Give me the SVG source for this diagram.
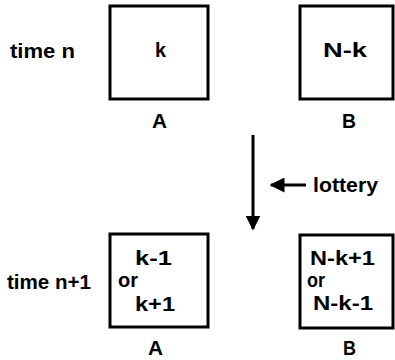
<svg xmlns="http://www.w3.org/2000/svg" width="395" height="360" viewBox="0 0 395 360">
<defs>
<style>
.box{fill:none;stroke:#000;stroke-width:3}
text{font-family:"Liberation Sans",Arial,sans-serif;font-weight:bold;font-size:20px;fill:#000}
.ln{stroke:#000;stroke-width:3;fill:none}
</style>
<marker id="ah" markerWidth="5" markerHeight="5" refX="4.5" refY="2.5" orient="auto" markerUnits="strokeWidth"><path d="M0,0 L5,2.5 L0,5 Z" fill="#000"/></marker>
</defs>
<rect width="395" height="360" fill="#fff"/>
<text x="10" y="58" textLength="65" lengthAdjust="spacingAndGlyphs">time  n</text>
<text x="7" y="289" textLength="84" lengthAdjust="spacingAndGlyphs">time  n+1</text>
<g id="A_n"><rect class="box" x="110" y="6" width="98" height="93"/><text x="155" y="57" textLength="11" lengthAdjust="spacingAndGlyphs">k</text><text x="152" y="128" textLength="15" lengthAdjust="spacingAndGlyphs">A</text></g>
<g id="B_n"><rect class="box" x="300" y="6" width="93" height="93"/><text x="323" y="57" textLength="44" lengthAdjust="spacingAndGlyphs">N-k</text><text x="342" y="128" textLength="14" lengthAdjust="spacingAndGlyphs">B</text></g>
<g id="A_n1"><rect class="box" x="110" y="234" width="98" height="93"/><text x="135" y="265" textLength="37" lengthAdjust="spacingAndGlyphs">k-1</text><text x="118" y="287" textLength="20" lengthAdjust="spacingAndGlyphs">or</text><text x="135" y="311" textLength="40" lengthAdjust="spacingAndGlyphs">k+1</text><text x="148" y="355" textLength="15" lengthAdjust="spacingAndGlyphs">A</text></g>
<g id="B_n1"><rect class="box" x="300" y="235" width="93" height="93"/><text x="310" y="265" textLength="65" lengthAdjust="spacingAndGlyphs">N-k+1</text><text x="307" y="287" textLength="18" lengthAdjust="spacingAndGlyphs">or</text><text x="313" y="310" textLength="60" lengthAdjust="spacingAndGlyphs">N-k-1</text><text x="343" y="355" textLength="13" lengthAdjust="spacingAndGlyphs">B</text></g>
<g id="connectors">
<line class="ln" x1="253" y1="135" x2="253" y2="229" marker-end="url(#ah)"/>
<line class="ln" x1="306" y1="185" x2="271" y2="185" marker-end="url(#ah)"/>
</g>
<text x="313" y="192" textLength="65" lengthAdjust="spacingAndGlyphs">lottery</text>
</svg>
